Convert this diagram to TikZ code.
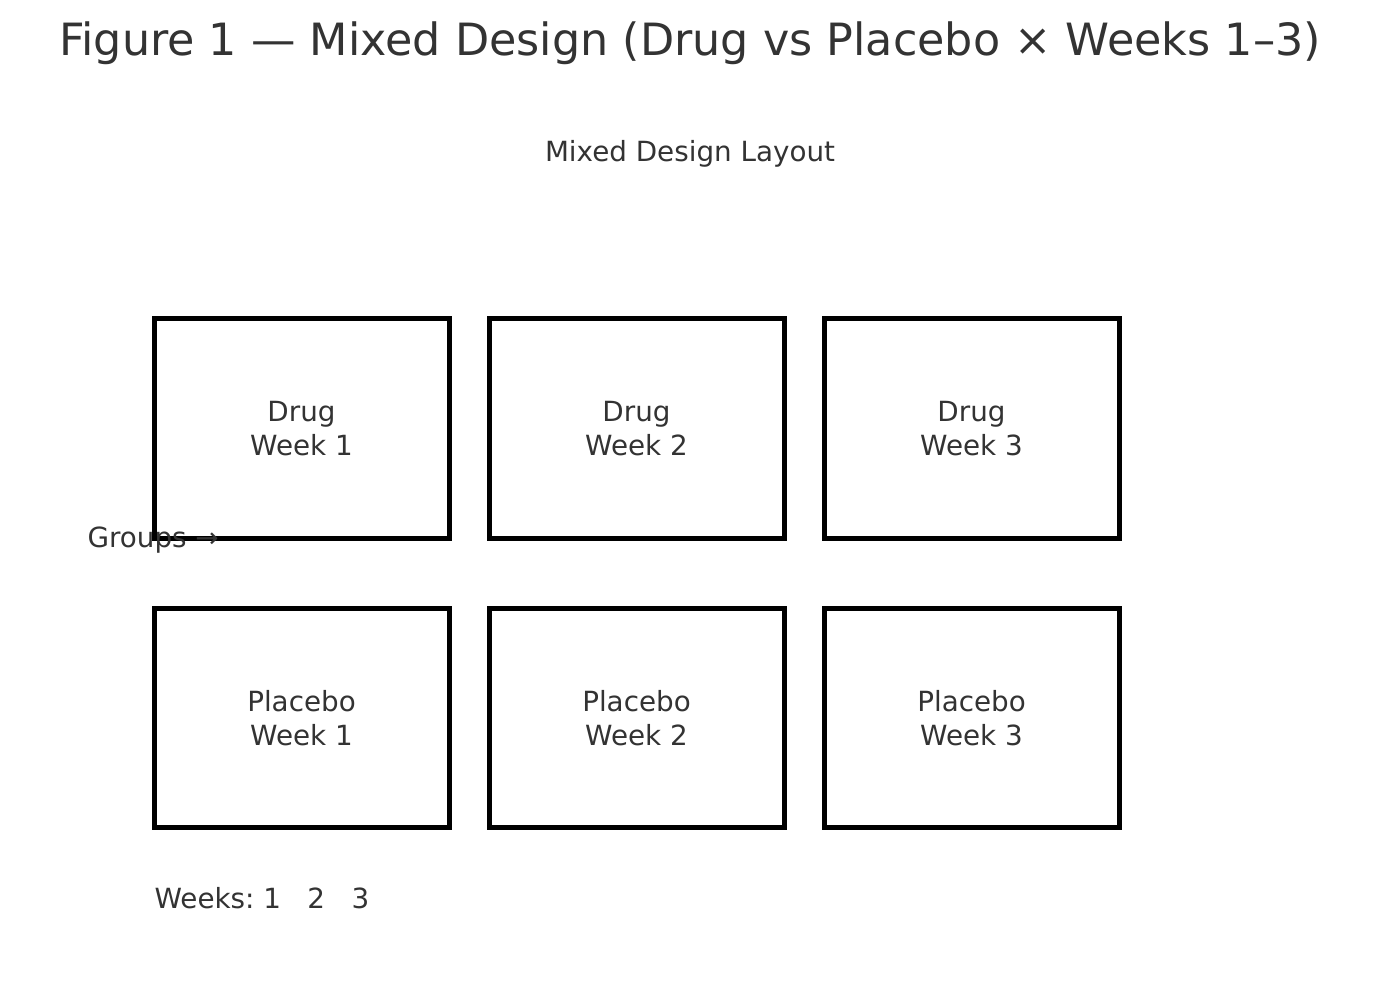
\documentclass[tikz,border=0pt]{standalone}
\usepackage{fontspec}
\setmainfont{DejaVu Sans}
\definecolor{txt}{HTML}{333333}
\frenchspacing
\begin{document}
\begin{tikzpicture}[x=0.36pt,y=-0.36pt,
  cell/.style={draw=black,line width=1.8pt,minimum width=106.2pt,minimum height=78.84pt,inner sep=0pt,outer sep=0pt,align=center,text=txt,font=\fontsize{10}{12}\selectfont},
  lbl/.style={text=txt,inner sep=0pt,font=\fontsize{10}{12}\selectfont}]
\useasboundingbox[fill=white] (0,0) rectangle (1380,980);
\node[text=txt,inner sep=0pt,font=\fontsize{16}{19}\selectfont] (title) at (690,43) {Figure 1 — Mixed Design (Drug vs Placebo × Weeks 1–3)};
\node[lbl] (sub) at (690,154) {Mixed Design Layout};
\node[cell] (d1) at (301.5,428.5) {Drug\\Week 1};
\node[cell] (d2) at (636.5,428.5) {Drug\\Week 2};
\node[cell] (d3) at (971.5,428.5) {Drug\\Week 3};
\node[cell] (p1) at (301.5,718) {Placebo\\Week 1};
\node[cell] (p2) at (636.5,718) {Placebo\\Week 2};
\node[cell] (p3) at (971.5,718) {Placebo\\Week 3};
\node[lbl,anchor=west] (groups) at (87,540) {Groups →};
\node[lbl,anchor=west] (weeks) at (154,898) {Weeks: 1\ \ \ 2\ \ \ 3};
\end{tikzpicture}
\end{document}
